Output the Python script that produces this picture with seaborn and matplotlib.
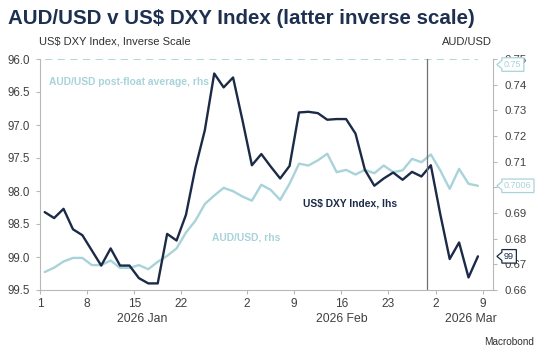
import numpy as np
import pandas as pd
import matplotlib
matplotlib.use("Agg")
import matplotlib.pyplot as plt
from matplotlib.path import Path
import seaborn as sns

# business days Jan 2 - Mar 9 2026
dates = pd.bdate_range("2026-01-02", "2026-03-09")

dxy = [98.32, 98.41, 98.27, 98.58, 98.67, 98.90, 99.13, 98.87, 99.13, 99.13,
       99.32, 99.40, 99.40, 98.65, 98.75, 98.36, 97.65, 97.08, 96.22, 96.43,
       96.28, 96.93, 97.61, 97.44, 97.63, 97.81, 97.62, 96.81, 96.80, 96.82,
       96.92, 96.91, 96.91, 97.13, 97.68, 97.92, 97.81, 97.72, 97.83, 97.71,
       97.78, 97.61, 98.35, 99.03, 98.78, 99.31, 98.99]

audusd = [0.6670, 0.6687, 0.6711, 0.6725, 0.6725, 0.6697, 0.6697, 0.6715, 0.6686, 0.6686,
          0.6697, 0.6681, 0.6710, 0.6733, 0.6762, 0.6824, 0.6870, 0.6935, 0.6968, 0.6998,
          0.6985, 0.6964, 0.6948, 0.7010, 0.6990, 0.6951, 0.7014, 0.7092, 0.7085, 0.7105,
          0.7131, 0.7059, 0.7068, 0.7050, 0.7068, 0.7055, 0.7085, 0.7059, 0.7066, 0.7111,
          0.7098, 0.7128, 0.7066, 0.6994, 0.7072, 0.7014, 0.7006]

post_float_avg = 0.75

tick_dates = ["2026-01-01", "2026-01-08", "2026-01-15", "2026-01-22", "2026-02-02",
              "2026-02-09", "2026-02-16", "2026-02-23", "2026-03-02", "2026-03-09"]
tick_labels = ["1", "8", "15", "22", "2", "9", "16", "23", "2", "9"]
month_labels = ["2026 Jan", "2026 Feb", "2026 Mar"]
month_pos = [10.4, 31.5, 45.2]

# event marker (weekend of Feb 28), position on the business-day axis
event_pos = 40.6

navy = "#1b2a47"
light = "#a8d3da"
grey_txt = "#404040"
spine_c = "#b8b8b8"

df = pd.DataFrame({"pos": np.arange(len(dates)), "dxy": dxy, "aud": audusd})
df["avg"] = post_float_avg
tick_pos = [np.busday_count(dates[0].date(), np.datetime64(d)) + 0.5 for d in tick_dates]

sns.set_style("white")
plt.rcParams["font.family"] = ["Liberation Sans", "DejaVu Sans"]

fig = plt.figure(figsize=(5.5, 3.57), dpi=100)
ax = fig.add_axes([40 / 550, 1 - 290 / 357, 453 / 550, 231 / 357])
ax2 = ax.twinx()

sns.lineplot(data=df, x="pos", y="aud", ax=ax2, color=light, lw=1.7)
sns.lineplot(data=df, x="pos", y="avg", ax=ax2, color=light, lw=1.3, dashes=False,
             linestyle=(0, (4, 3)))
sns.lineplot(data=df, x="pos", y="dxy", ax=ax, color=navy, lw=1.7)
ax.set_zorder(ax2.get_zorder() + 1)
ax.patch.set_visible(False)

ax.axvline(event_pos, color="#707070", lw=0.9)

ax.set_xlim(-0.5, 47.6)
ax.set_ylim(99.5, 96.0)
ax2.set_ylim(0.66, 0.75)
ax.set_yticks(np.arange(96.0, 99.51, 0.5))
ax.set_yticklabels([f"{v:.1f}" for v in np.arange(96.0, 99.51, 0.5)])
ax2.set_yticks(np.arange(0.66, 0.7501, 0.01))
ax2.set_yticklabels([f"{v:.2f}" for v in np.arange(0.66, 0.7501, 0.01)])
ax.set_xticks(tick_pos)
ax.set_xticklabels(tick_labels)
for a in (ax, ax2):
    a.set_xlabel("")
    a.set_ylabel("")
    for s in a.spines.values():
        s.set_visible(False)
ax.spines["left"].set_visible(True)
ax.spines["bottom"].set_visible(True)
ax2.spines["right"].set_visible(True)
for s in (ax.spines["left"], ax.spines["bottom"], ax2.spines["right"]):
    s.set_color(spine_c)
    s.set_linewidth(0.8)

ax.tick_params(axis="y", left=True, length=3, width=0.8, color=spine_c, pad=4,
               labelsize=8.3, labelcolor=grey_txt)
ax.tick_params(axis="x", bottom=True, length=3, width=0.8, color=spine_c, pad=3,
               labelsize=8.6, labelcolor=grey_txt)
ax2.tick_params(axis="y", right=True, length=3, width=0.8, color=spine_c, pad=5,
                labelsize=8.2, labelcolor=grey_txt)

for lab, p in zip(month_labels, month_pos):
    ax.text(p, -0.126, lab, transform=ax.get_xaxis_transform(), ha="center",
            va="center", fontsize=8.8, color=grey_txt)


def tag_box(x0, y0, width, height, mutation_size):
    pad = 0.25 * mutation_size
    x0, y0 = x0 - pad, y0 - pad
    x1, y1 = x0 + width + 2 * pad, y0 + height + 2 * pad
    ym = 0.5 * (y0 + y1)
    h = 0.3 * (y1 - y0)
    tip = 0.55 * mutation_size
    verts = [(x0, y0), (x1, y0), (x1, y1), (x0, y1), (x0, ym + h),
             (x0 - tip, ym), (x0, ym - h), (x0, y0), (x0, y0)]
    return Path(verts, closed=True)


def tag(axis, value, text, color, dy=0):
    axis.annotate(text, xy=(1, value), xycoords=("axes fraction", "data"),
                  xytext=(8, dy), textcoords="offset points", ha="left", va="center",
                  fontsize=6.5, color=color, annotation_clip=False, zorder=10,
                  bbox=dict(boxstyle=tag_box, fc="white", ec=color, lw=0.9))


tag(ax2, post_float_avg, f"{post_float_avg:.2f}", light, dy=-4)
tag(ax2, audusd[-1], f"{audusd[-1]:.4f}", light)
tag(ax, dxy[-1], f"{dxy[-1]:.0f}", navy)

ax2.text(0.46, 0.7411, "AUD/USD post-float average, rhs", color=light, fontsize=7.4,
         fontweight="bold", va="center", ha="left")
ax2.text(17.8, 0.6805, "AUD/USD, rhs", color=light, fontsize=7.4,
         fontweight="bold", va="center", ha="left")
ax.text(27.45, 98.19, "US$ DXY Index, lhs", color=navy, fontsize=7.4,
        fontweight="bold", va="center", ha="left")

fig.text(8 / 550, 1 - 19 / 357, "AUD/USD v US$ DXY Index (latter inverse scale)",
         fontsize=14.8, fontweight="bold", color="#1e3050", va="center", ha="left")
fig.text(39 / 550, 1 - 42 / 357, "US$ DXY Index, Inverse Scale", fontsize=8,
         color="#303030", va="center", ha="left")
fig.text(492 / 550, 1 - 42 / 357, "AUD/USD", fontsize=8, color="#303030",
         va="center", ha="right")
fig.text(534 / 550, 1 - 342 / 357, "Macrobond", fontsize=7.2, color="#303030",
         va="center", ha="right")

fig.savefig("out.png", dpi=100)
